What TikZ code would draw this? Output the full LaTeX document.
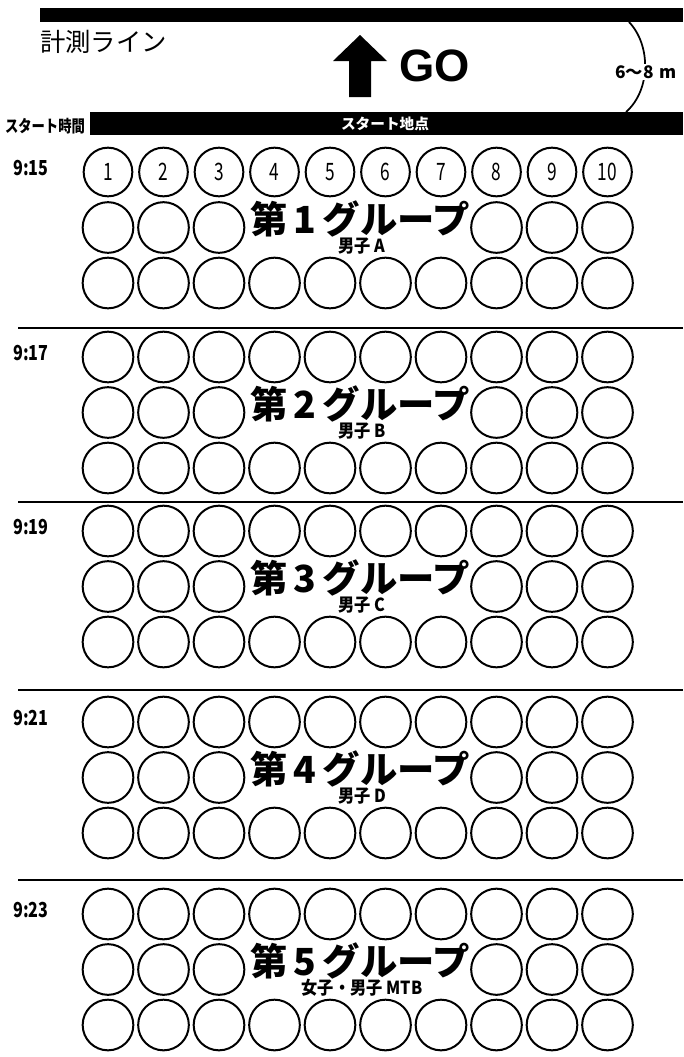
\documentclass[tikz,border=0pt]{standalone}
\usepackage{fontspec}
\setmainfont{Noto Sans CJK JP}
\newfontfamily\gofont{Liberation Sans}
\begin{document}
\begin{tikzpicture}[x=0.75pt,y=-0.75pt,
  seat/.style={circle,draw,line width=1.5pt,inner sep=0pt,minimum size=38pt},
  numseat/.style={circle,draw,line width=1.5pt,inner sep=0pt,minimum size=36.5pt,
     font=\fontsize{18}{18}\selectfont},
  divider/.style={line width=2pt},
  timelbl/.style={font=\fontsize{15.5}{15.5}\selectfont\bfseries,inner sep=0pt},
  grouptitle/.style={font=\fontsize{28}{28}\selectfont\bfseries,inner sep=0pt},
  groupsub/.style={font=\fontsize{13.5}{13.5}\selectfont\bfseries,inner sep=0pt},
  bar/.style={fill=black,draw=none}]
\useasboundingbox (0,0) rectangle (683,1057);
% header
\fill[bar] (40,8) rectangle (683,22);
\node[anchor=west,inner sep=0pt,font=\fontsize{19}{19}\selectfont] (line) at (40,42) {計測ライン};
\fill[black] (333,61) -- (360,35) -- (387,61) -- (371,61) -- (371,97) -- (349,97) -- (349,61) -- cycle;
\node[anchor=west,inner sep=0pt,font=\gofont\fontsize{34}{34}\selectfont\bfseries] (go) at (399,66) {GO};
\coordinate (a1) at (629,22);
\coordinate (a2) at (626,112);
\draw[line width=1.3pt] (a1) .. controls (651,45) and (651,90) .. (a2);
\node[fill=white,inner sep=1pt,font=\fontsize{13}{13}\selectfont\bfseries] (dist) at (646,72) {6〜8\,\,m};
\fill[bar] (90,112) rectangle (683,135);
\node[text=white,inner sep=0pt,font=\fontsize{11}{11}\selectfont\bfseries] (start) at (385,124) {スタート地点};
\node[inner sep=0pt,font=\fontsize{12.5}{12.5}\selectfont\bfseries] (stime) at (45,126) {\scalebox{0.8}[1]{スタート時間}};
% groups
\foreach \g/\y/\t/\sub in {1/172/9:15/男子 A,2/357/9:17/男子 B,3/531/9:19/男子 C,4/722/9:21/男子 D,5/914/9:23/女子・男子 MTB}{
  \node[timelbl] (t\g) at (31,\y-4) {\scalebox{0.78}[1]{\t}};
  \foreach \c in {1,...,10}{
    \pgfmathsetmacro{\xx}{108+(\c-1)*55.5}
    \ifnum\g=1
      \node[numseat] (g\g r1c\c) at (\xx,\y) {\scalebox{0.72}[1]{\c}};
    \else
      \node[seat] (g\g r1c\c) at (\xx,\y) {};
    \fi
    \node[seat] (g\g r3c\c) at (\xx,\y+111) {};
  }
  \foreach \c in {1,2,3,8,9,10}{
    \pgfmathsetmacro{\xx}{108+(\c-1)*55.5}
    \node[seat] (g\g r2c\c) at (\xx,\y+55.5) {};
  }
  \node[grouptitle] (title\g) at (360,\y+47) {第\,\g\,グループ};
  \node[groupsub] (sub\g) at (362,\y+74) {\scalebox{0.9}[1]{\sub}};
}
% dividers
\foreach \i/\y in {1/328,2/502,3/690,4/880}{
  \coordinate (d\i l) at (18,\y);
  \coordinate (d\i r) at (683,\y);
  \draw[divider] (d\i l) -- (d\i r);
}
\end{tikzpicture}
\end{document}
